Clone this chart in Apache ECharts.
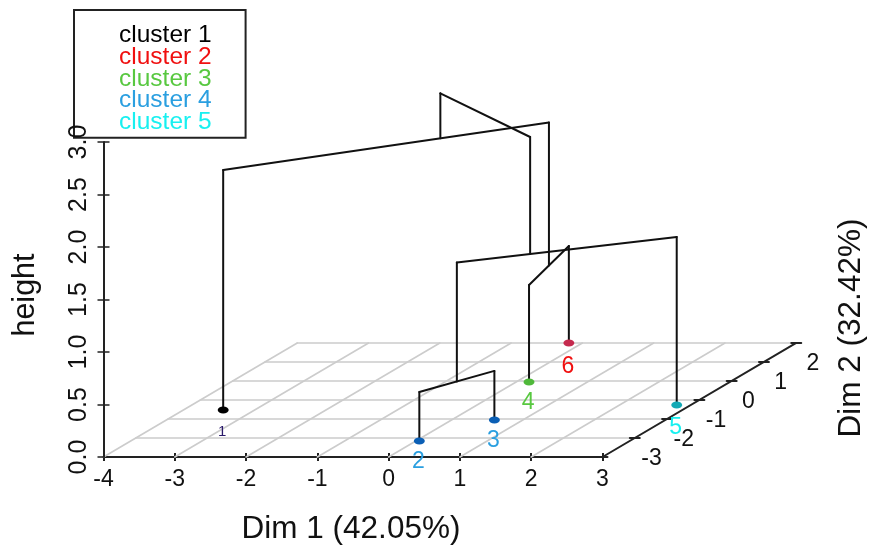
<!DOCTYPE html>
<html>
<head>
<meta charset="utf-8">
<style>html,body{margin:0;padding:0;background:#fff}#c{width:876px;height:546px}</style>
<script src="https://cdn.jsdelivr.net/npm/echarts@6/dist/echarts.min.js"></script>
</head>
<body>
<div id="c"></div>
<script>
// ---- axis ticks ----
const dim1Ticks = [-4, -3, -2, -1, 0, 1, 2, 3];
const dim2Ticks = [-3, -2, -1, 0, 1, 2, 3];
const dim2Labels = ['-3', '-2', '-1', '0', '1', '2'];
const heightTicks = ['0.0', '0.5', '1.0', '1.5', '2.0', '2.5', '3.0'];

// ---- clusters ----
const clusterNames = ['cluster 1', 'cluster 2', 'cluster 3', 'cluster 4', 'cluster 5'];
const clusterTextColors = ['#000000', '#f01010', '#58c840', '#2a9fe0', '#18f0f0'];
const clusterDotColors = ['#000000', '#c52a4e', '#4fb83a', '#0b5fb5', '#12a9b5'];

// ---- leaves: label, cluster index, Dim 1, Dim 2 ----
const leafLabels = ['1', '2', '3', '4', '5', '6'];
const leafCluster = [0, 3, 3, 2, 4, 1];
const leafDim1 = [-3.44, 0.05, 0.60, 0.18, 2.80, -0.19];
const leafDim2 = [-0.53, -2.16, -1.05, 0.95, -0.26, 3.00];

// ---- tree nodes: ground position of each merge ----
const mergeNames = ['A', 'B', 'C', 'G'];
const mergeDim1 = [0.325, -0.005, 1.15, -1.15];
const mergeDim2 = [-1.605, 1.975, -1.157, 1.14];
const mergeHeight = [0.467, 0.924, 1.60, 2.286];
const topHeight = 2.714;

// ---- oblique projection of Dim 2 into the Dim 1 / height plane ----
const SHEAR_X = 0.453, SHEAR_Y = 0.181, DIM2_MIN = -3;
const proj = (d1, d2, h) => [d1 + SHEAR_X * (d2 - DIM2_MIN), h + SHEAR_Y * (d2 - DIM2_MIN)];

const leafAt = (i) => [leafDim1[i], leafDim2[i]];
const mergeAt = (i) => [mergeDim1[i], mergeDim2[i]];
const segment = (p, q) => [p[0], p[1], q[0], q[1]];

// Tree as stems and bars
const tree = [];
const seg = (a, ha, b, hb) => tree.push(segment(proj(a[0], a[1], ha), proj(b[0], b[1], hb)));
const joinUp = (a, ha, b, hb, h) => {
  seg(a, ha, a, h); seg(a, h, b, h); seg(b, h, b, hb);
};
joinUp(leafAt(1), 0, leafAt(2), 0, mergeHeight[0]);
joinUp(leafAt(3), 0, leafAt(5), 0, mergeHeight[1]);
joinUp(mergeAt(0), mergeHeight[0], leafAt(4), 0, mergeHeight[2]);
joinUp(leafAt(0), 0, mergeAt(1), mergeHeight[1], mergeHeight[3]);
joinUp(mergeAt(3), mergeHeight[3], mergeAt(2), mergeHeight[2], topHeight);

// Floor grid
const floor = [];
dim1Ticks.slice(0, -1).forEach(d1 => floor.push(segment(proj(d1, -3, 0), proj(d1, 3, 0))));
dim2Ticks.slice(1).forEach(d2 => floor.push(segment(proj(-4, d2, 0), proj(3, d2, 0))));

// Dim 2 axis and its ticks
const dim2Axis = [segment(proj(3, -3, 0), proj(3, 3, 0))];
dim2Ticks.forEach(d2 => dim2Axis.push(segment(proj(2.93, d2, 0), proj(3.07, d2, 0))));

const lineSeries = (data, color, width, z) => ({
  type: 'custom', data, clip: false, silent: true, z,
  encode: { x: [0, 2], y: [1, 3] },
  renderItem: (params, api) => {
    const a = api.coord([api.value(0), api.value(1)]);
    const b = api.coord([api.value(2), api.value(3)]);
    return {
      type: 'line',
      shape: { x1: a[0], y1: a[1], x2: b[0], y2: b[1] },
      style: { stroke: color, lineWidth: width, lineCap: 'round' }
    };
  }
});

const labelDrop = [22, 24, 21, 21, 23];
const clusterSeries = clusterNames.map((name, c) => {
  const data = [];
  leafLabels.forEach((lab, i) => {
    if (leafCluster[i] === c) data.push({ value: proj(leafDim1[i], leafDim2[i], 0), name: lab });
  });
  return {
    type: 'scatter', name, data, clip: false, z: 6,
    symbol: 'circle', symbolSize: [11, 7],
    itemStyle: { color: clusterDotColors[c], opacity: 1 },
    label: {
      show: true, position: 'inside', formatter: '{b}', offset: [-1, labelDrop[c]],
      fontFamily: 'Liberation Sans',
      fontSize: c === 0 ? 15 : 23,
      color: c === 0 ? '#2a1a6a' : clusterTextColors[c]
    }
  };
});

const FONT = 'Liberation Sans';
const option = {
  animation: false,
  backgroundColor: '#ffffff',
  textStyle: { fontFamily: FONT },
  legend: {
    orient: 'vertical', left: 74, top: 10, selectedMode: false, z: 2,
    backgroundColor: '#ffffff', borderColor: '#222', borderWidth: 2,
    padding: [13, 34, 3, 40], itemGap: -3.3, itemWidth: 0, itemHeight: 21.5,
    itemStyle: { opacity: 0 },
    textStyle: { fontSize: 24.5, fontFamily: FONT },
    data: clusterNames.map((name, i) => ({ name, textStyle: { color: clusterTextColors[i] } }))
  },
  grid: { left: 103.5, top: 142, width: 499, height: 315, containLabel: false, outerBoundsMode: 'none' },
  xAxis: [{
    type: 'value', min: -4, max: 3, interval: 1, position: 'bottom',
    name: 'Dim 1 (42.05%)', nameLocation: 'middle', nameGap: 56,
    nameTextStyle: { fontSize: 31.5, fontFamily: FONT, color: '#111', padding: [0, 4, 0, 0] },
    axisLine: { show: true, onZero: false, lineStyle: { color: '#222', width: 2 } },
    axisTick: { show: true, length: 4, lineStyle: { color: '#222', width: 2 } },
    axisLabel: { fontSize: 23, color: '#111', margin: 11, fontFamily: FONT, showMinLabel: true, showMaxLabel: true },
    splitLine: { show: false }
  }, {
    type: 'value', min: -4, max: 3, interval: 1, position: 'bottom',
    axisLine: { show: false, onZero: false },
    axisTick: { show: true, inside: true, length: 4, lineStyle: { color: '#222', width: 2 } },
    axisLabel: { show: false }, splitLine: { show: false }
  }],
  yAxis: [{
    type: 'value', min: 0, max: 3, interval: 0.5, position: 'left', z: 8,
    name: 'height', nameLocation: 'middle', nameGap: 62,
    nameTextStyle: { fontSize: 30.5, fontFamily: FONT, color: '#111', padding: [0, 0, 0, 9] },
    axisLine: { show: true, onZero: false, lineStyle: { color: '#222', width: 2 } },
    axisTick: { show: true, length: 6, lineStyle: { color: '#222', width: 1.5 } },
    axisLabel: {
      fontSize: 25, color: '#111', rotate: 90, margin: 12, fontFamily: FONT,
      showMinLabel: true, showMaxLabel: true,
      formatter: (v) => heightTicks[Math.round(v / 0.5)]
    },
    splitLine: { show: false }
  }, {
    type: 'value', min: 0, max: 3, interval: 0.5, position: 'left',
    axisLine: { show: false, onZero: false },
    axisTick: { show: true, inside: true, length: 6, lineStyle: { color: '#222', width: 1.5 } },
    axisLabel: { show: false }, splitLine: { show: false }
  }],
  series: [
    lineSeries(floor, '#cccccc', 1.6, 1),
    lineSeries(dim2Axis, '#222222', 2, 3),
    {
      type: 'scatter', data: dim2Labels.map((lab, i) => ({ value: proj(3, dim2Ticks[i], 0), name: lab })),
      symbolSize: 0, clip: false, silent: true, z: 3, itemStyle: { opacity: 1 },
      label: {
        show: true, position: 'inside', formatter: '{b}', fontSize: 23,
        fontFamily: FONT, color: '#111', offset: [49, 2]
      }
    },
    lineSeries(tree, '#111111', 2, 5),
    ...clusterSeries
  ],
  graphic: [{
    type: 'text', x: 851, y: 328, rotation: Math.PI / 2, originX: 0, originY: 0,
    style: {
      text: 'Dim 2 (32.42%)', fill: '#111', fontSize: 31.5, fontFamily: FONT,
      align: 'center', verticalAlign: 'middle'
    }
  }]
};
const chart = echarts.init(document.getElementById('c'), null, { renderer: 'canvas' });
chart.setOption(option);
</script>
</body>
</html>
